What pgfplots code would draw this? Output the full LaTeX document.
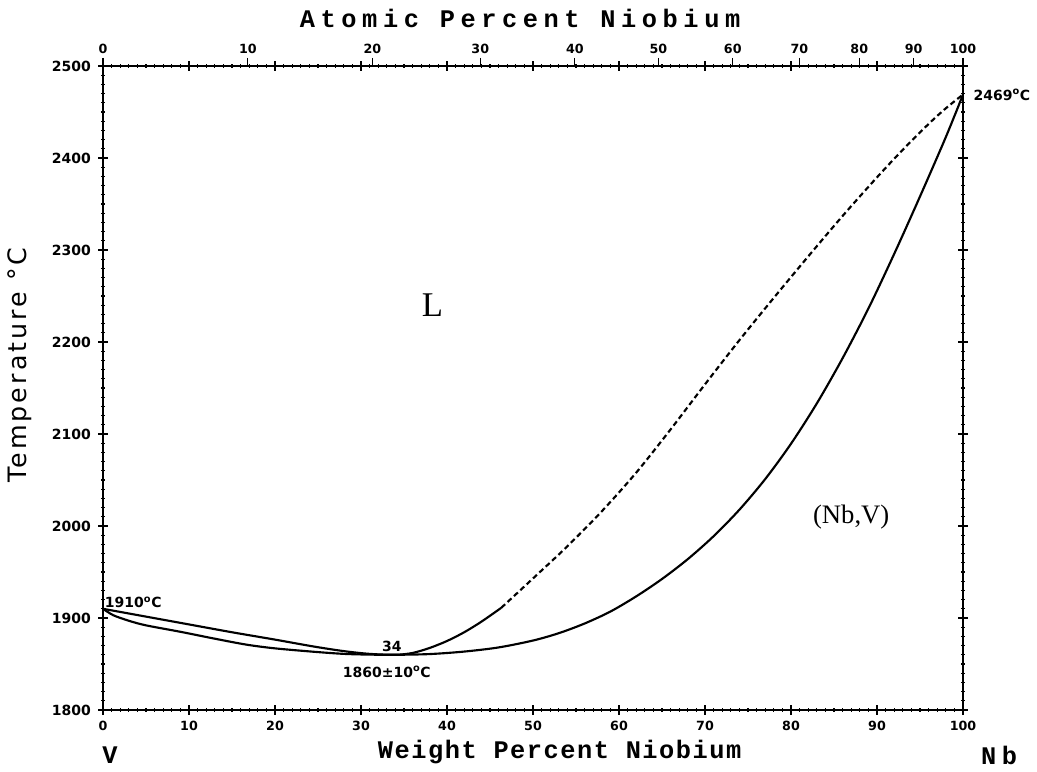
\documentclass[border=0pt]{standalone}
\usepackage{fontspec}
\setmainfont{DejaVu Sans}
\newfontfamily\labfont[LetterSpace=6]{Liberation Mono}
\newfontfamily\toplabfont[LetterSpace=22]{Liberation Mono}
\newfontfamily\serfont{Liberation Serif}
\newfontfamily\dvfont[LetterSpace=12]{DejaVu Sans}
\usepackage{pgfplots}
\pgfplotsset{compat=1.18}

\pgfplotstableread{
w T
0 1910
5 1901.5
10 1893
15 1884.5
20 1876.5
24.5 1869
28 1864
31 1861
34 1860
36 1862
38 1867.5
40 1875
42 1884.5
44 1896
46.3 1911
}\liqsolid

\pgfplotstableread{
w T
46.3 1911
50 1943
54 1978
58 2016
62 2058
66 2105
70 2154
74 2202
78 2248
82 2293
86 2337
90 2379
93 2409
96 2437
98 2454
100 2469
}\liqdash

\pgfplotstableread{
w T
0 1910
1.2 1903
3 1897
5 1892
9 1885
13 1877.5
16.7 1871
20 1867
24.5 1863.3
28 1861
31 1860.2
34 1860
38 1860.8
42 1863.5
46 1868
50 1875.5
53 1883.5
56 1894
59 1907
62 1923.5
65 1942.4
68 1964
71 1988.9
74 2017.7
77 2051
80 2089.4
83 2133.2
86 2182.4
89 2236.4
92 2295.8
95 2358.2
98 2422.7
100 2469
}\solidus

\begin{document}
\begin{tikzpicture}
\begin{axis}[
  name=main,
  scale only axis,
  width=645pt, height=483pt,
  xmin=0, xmax=100, ymin=1800, ymax=2500,
  xtick={0,10,...,100}, minor x tick num=9,
  ytick={1800,1900,...,2500}, minor y tick num=9,
  xtick pos=both, ytick pos=both,
  xticklabel pos=left, yticklabel pos=left,
  tick align=center,
  major tick length=7pt, minor tick length=2.5pt,
  every tick/.style={black, line width=0.8pt},
  axis line style={line width=1.2pt},
  tick label style={font=\bfseries\fontsize{9.5}{11}\selectfont},
  xticklabel style={yshift=-1pt},
  yticklabel style={xshift=-2pt, font=\bfseries\fontsize{10.5}{12}\selectfont},
  /pgf/number format/assume math mode=true,
  /pgf/number format/set thousands separator={},
  clip=false,
]
\addplot[black, line width=1.6pt, smooth, tension=0.5] table[x=w,y=T] {\liqsolid};
\addplot[black, line width=1.6pt, smooth, tension=0.5, dash pattern=on 4pt off 2.5pt] table[x=w,y=T] {\liqdash};
\addplot[black, line width=1.6pt, smooth, tension=0.5] table[x=w,y=T] {\solidus};

\coordinate (SW) at (rel axis cs:0,0);
\coordinate (NE) at (rel axis cs:1,1);

\node[anchor=west, font=\bfseries\fontsize{10.5}{12}\selectfont, inner sep=0pt] at (axis cs:0.2,1917) {1910\textsuperscript{o}C};
\node[font=\bfseries\fontsize{10.5}{12}\selectfont, inner sep=0pt] at (axis cs:33.6,1869) {34};
\node[font=\bfseries\fontsize{10.5}{12}\selectfont, inner sep=0pt] at (axis cs:33.0,1841.3) {1860±10\textsuperscript{o}C};
\node[anchor=west, font=\bfseries\fontsize{10.5}{12}\selectfont, inner sep=0pt] at (axis cs:101.2,2468.5) {2469\textsuperscript{o}C};
\node[font=\serfont\fontsize{26}{30}\selectfont, inner sep=0pt] at (axis cs:38.3,2240) {L};
\node[font=\serfont\fontsize{20}{24}\selectfont, inner sep=0pt] at (axis cs:87.0,2010) {(Nb,V)};
\node[font=\labfont\bfseries\fontsize{19}{22}\selectfont, inner sep=0pt] at (axis cs:0.8,1751) {V};
\node[font=\toplabfont\bfseries\fontsize{19}{22}\selectfont, inner sep=0pt] at (axis cs:104.2,1751) {Nb};
\node[font=\labfont\bfseries\fontsize{19}{22}\selectfont, inner sep=0pt] at (axis cs:53.1,1754.3) {Weight Percent Niobium};
\node[font=\toplabfont\bfseries\fontsize{19}{22}\selectfont, inner sep=0pt] at (axis cs:48.5,2552) {Atomic Percent Niobium};
\node[rotate=90, font=\dvfont\fontsize{19}{21}\selectfont, inner sep=0pt] at (axis cs:-9.65,2175) {Temperature °C};
\end{axis}
\begin{axis}[
  scale only axis,
  width=645pt, height=483pt,
  xmin=0, xmax=100, ymin=1800, ymax=2500,
  axis x line*=top, axis y line=none,
  xtick={0,16.85,31.32,43.87,54.87,64.59,73.23,80.97,87.94,94.26,100},
  xticklabels={0,10,20,30,40,50,60,70,80,90,100},
  minor xtick={},
  tick align=outside,
  major tick length=6pt,
  every tick/.style={black, line width=0.8pt},
  axis line style={line width=1.2pt},
  tick label style={font=\bfseries\fontsize{9.5}{11}\selectfont},
  /pgf/number format/assume math mode=true,
]
\addplot[draw=none] coordinates {(0,1800)};
\end{axis}
\pgfresetboundingbox
\path[use as bounding box] ([xshift=-77.25pt,yshift=-46.5pt]SW) rectangle ([xshift=55.5pt,yshift=49.5pt]NE);
\end{tikzpicture}
\end{document}
